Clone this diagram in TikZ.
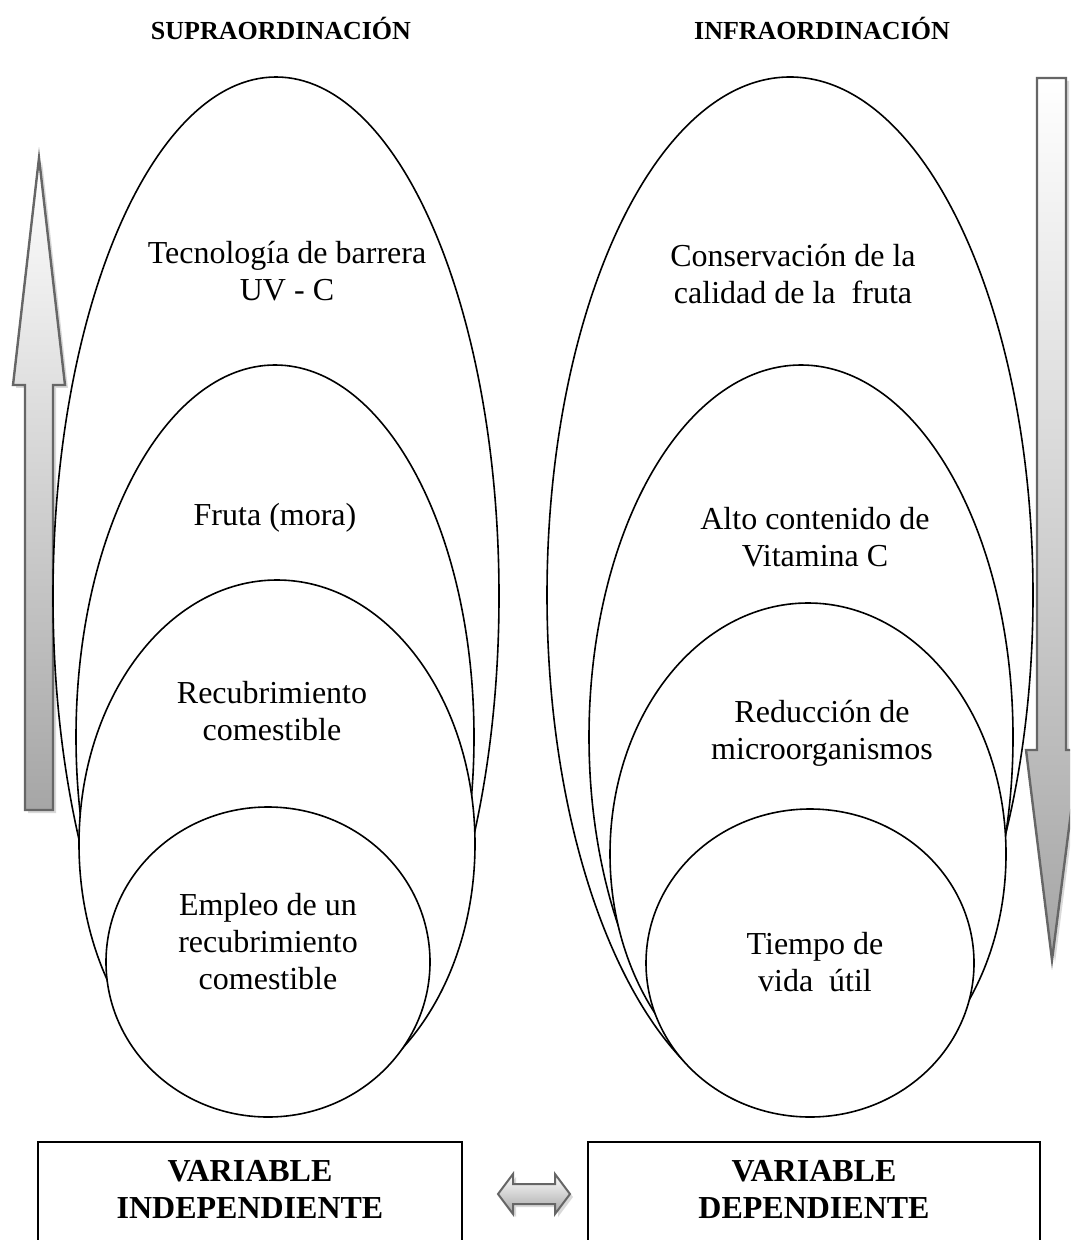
\documentclass[tikz,border=0pt]{standalone}
\usepackage{fontspec}
\setmainfont{Liberation Serif}
\usetikzlibrary{positioning}

\begin{document}
\begin{tikzpicture}[x=0.5pt,y=-0.5pt]
\tikzset{
  capa/.style={draw=black,fill=white,line width=0.8pt},
  texto/.style={align=center,inner sep=0pt,font=\fontsize{16}{18.5}\selectfont},
  titulo/.style={inner sep=0pt,font=\fontsize{13}{15}\selectfont\bfseries},
  caja/.style={draw=black,line width=1pt,fill=white},
  flecha/.style={draw=gray!80!black,line width=1.2pt,top color=white,bottom color=gray!70},
  sombra/.style={fill=gray!30,draw=none}
}
\useasboundingbox (0,0) rectangle (1070,1240);
\clip (0,0) rectangle (1070,1240);

% titulos
\node[titulo] (supra) at (281,28) {SUPRAORDINACIÓN};
\node[titulo] (infra) at (822,28) {INFRAORDINACIÓN};

% flecha que sube
\fill[sombra] (42,161) -- (68,388) -- (56,388) -- (56,813) -- (28,813) -- (28,388) -- (16,388) -- cycle;
\path[flecha] (39,158) -- (65,385) -- (53,385) -- (53,810) -- (25,810) -- (25,385) -- (13,385) -- cycle;
% flecha que baja
\fill[sombra] (1040,81) -- (1069,81) -- (1069,753) -- (1082,753) -- (1055,963) -- (1029,753) -- (1040,753) -- cycle;
\path[flecha] (1037,78) -- (1066,78) -- (1066,750) -- (1079,750) -- (1052,960) -- (1026,750) -- (1037,750) -- cycle;

% supraordinacion
\draw[capa] (276,596) ellipse [x radius=223, y radius=519];
\draw[capa] (275,737) ellipse [x radius=199, y radius=372];
\draw[capa] (277,844) ellipse [x radius=198, y radius=264];
\draw[capa] (268,962) ellipse [x radius=162, y radius=155];
\node[texto] (tecno) at (287,271) {Tecnología de barrera\\UV - C};
\node[texto] (fruta) at (275,518) {Fruta (mora)};
\node[texto] (recub) at (272,711) {Recubrimiento\\comestible};
\node[texto] (empleo) at (268,942) {Empleo de un\\recubrimiento\\comestible};

% infraordinacion
\draw[capa] (790,595) ellipse [x radius=243, y radius=518];
\draw[capa] (801,737) ellipse [x radius=212, y radius=372];
\draw[capa] (808,854) ellipse [x radius=198, y radius=251];
\draw[capa] (810,963) ellipse [x radius=164, y radius=154];
\node[texto] (conserva) at (793,274) {Conservación de la\\calidad de la \ fruta};
\node[texto] (vitamina) at (815,537) {Alto contenido de\\Vitamina C};
\node[texto] (reduce) at (822,733) {Reducción de\\microorganismos};
\node[texto] (tiempo) at (815,962) {Tiempo de\\vida \ útil};

% variables
\draw[caja] (38,1142) rectangle (462,1265);
\draw[caja] (588,1142) rectangle (1040,1265);
\node[texto,font=\fontsize{16}{18.5}\selectfont\bfseries] (indep) at (250,1189) {VARIABLE\\INDEPENDIENTE};
\node[texto,font=\fontsize{16}{18.5}\selectfont\bfseries] (dep) at (814,1189) {VARIABLE\\DEPENDIENTE};
\fill[sombra] (501,1197) -- (516,1177) -- (516,1187) -- (558,1187) -- (558,1177) -- (573,1197) -- (558,1217) -- (558,1207) -- (516,1207) -- (516,1217) -- cycle;
\path[flecha,line width=1pt] (498,1194) -- (513,1174) -- (513,1184) -- (555,1184) -- (555,1174) -- (570,1194) -- (555,1214) -- (555,1204) -- (513,1204) -- (513,1214) -- cycle;
\end{tikzpicture}
\end{document}
